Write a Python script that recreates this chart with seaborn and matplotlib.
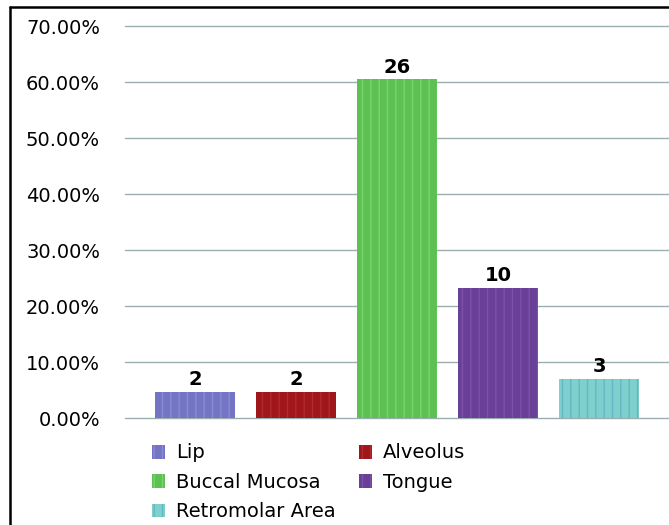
import matplotlib
matplotlib.use("Agg")
import matplotlib.pyplot as plt
import seaborn as sns
from matplotlib.patches import Patch
from matplotlib.lines import Line2D
from matplotlib.ticker import PercentFormatter

sites = ["Lip", "Alveolus", "Buccal Mucosa", "Tongue", "Retromolar Area"]
counts = [2, 2, 26, 10, 3]
percents = [4.65, 4.65, 60.47, 23.26, 6.98]
fill_colors = ["#7474c4", "#a0161a", "#5cc152", "#6a3f98", "#7fd0cc"]
stripe_colors = ["#8a8ad6", "#b02a2e", "#7ad46e", "#7a52a8", "#5fb8c8"]

sns.set_style("white")
plt.rcParams["font.family"] = ["DejaVu Sans"]
plt.rcParams["hatch.linewidth"] = 1.0
plt.rcParams["text.color"] = "black"
plt.rcParams["ytick.color"] = "black"

fig = plt.figure(figsize=(6.69, 5.25), dpi=100)
ax = fig.add_axes([125 / 669, 107 / 525, 544 / 669, 392 / 525])

sns.barplot(x=sites, y=percents, hue=sites, palette=fill_colors,
            width=0.79, legend=False, ax=ax, saturation=1)

for bar, sc, c in zip(ax.patches, stripe_colors, counts):
    bar.set_hatch("||")
    bar.set_edgecolor(sc)
    bar.set_linewidth(0)
    ax.text(bar.get_x() + bar.get_width() / 2, bar.get_height() + 0.5,
            str(c), ha="center", va="bottom", fontsize=14, fontweight="bold",
            color="black")

ax.set_xlim(-0.693, 4.69)
ax.set_ylim(0, 70)
ax.set_yticks(range(0, 71, 10))
ax.yaxis.set_major_formatter(PercentFormatter(decimals=2))
ax.tick_params(axis="y", length=0, pad=18, labelsize=14, labelcolor="black")
ax.set_xticks([])
ax.set_xlabel("")
ax.grid(axis="y", color="#9aaeb0", linewidth=1)
for gl in ax.get_ygridlines():
    gl.set_clip_on(False)
ax.set_axisbelow(True)
for s in ax.spines.values():
    s.set_visible(False)

handles = [Patch(facecolor=f, edgecolor=s, hatch="||", linewidth=0)
           for f, s in zip(fill_colors, stripe_colors)]
order = [0, 2, 4, 1, 3]
fig.legend([handles[i] for i in order], [sites[i] for i in order],
           ncol=2, loc="upper left", bbox_to_anchor=(134 / 669, 1 - 426 / 525),
           frameon=False, fontsize=14, handlelength=0.7, handleheight=0.7,
           handletextpad=0.55, labelspacing=0.53, columnspacing=1.2,
           labelcolor="black")

# outer frame (cropped)
fig.add_artist(Line2D([10 / 669, 10 / 669], [0, 1 - 7 / 525], color="black",
                      linewidth=1.8, transform=fig.transFigure))
fig.add_artist(Line2D([10 / 669, 1], [1 - 7 / 525, 1 - 7 / 525], color="black",
                      linewidth=1.8, transform=fig.transFigure))

fig.savefig("out.png", dpi=100)
